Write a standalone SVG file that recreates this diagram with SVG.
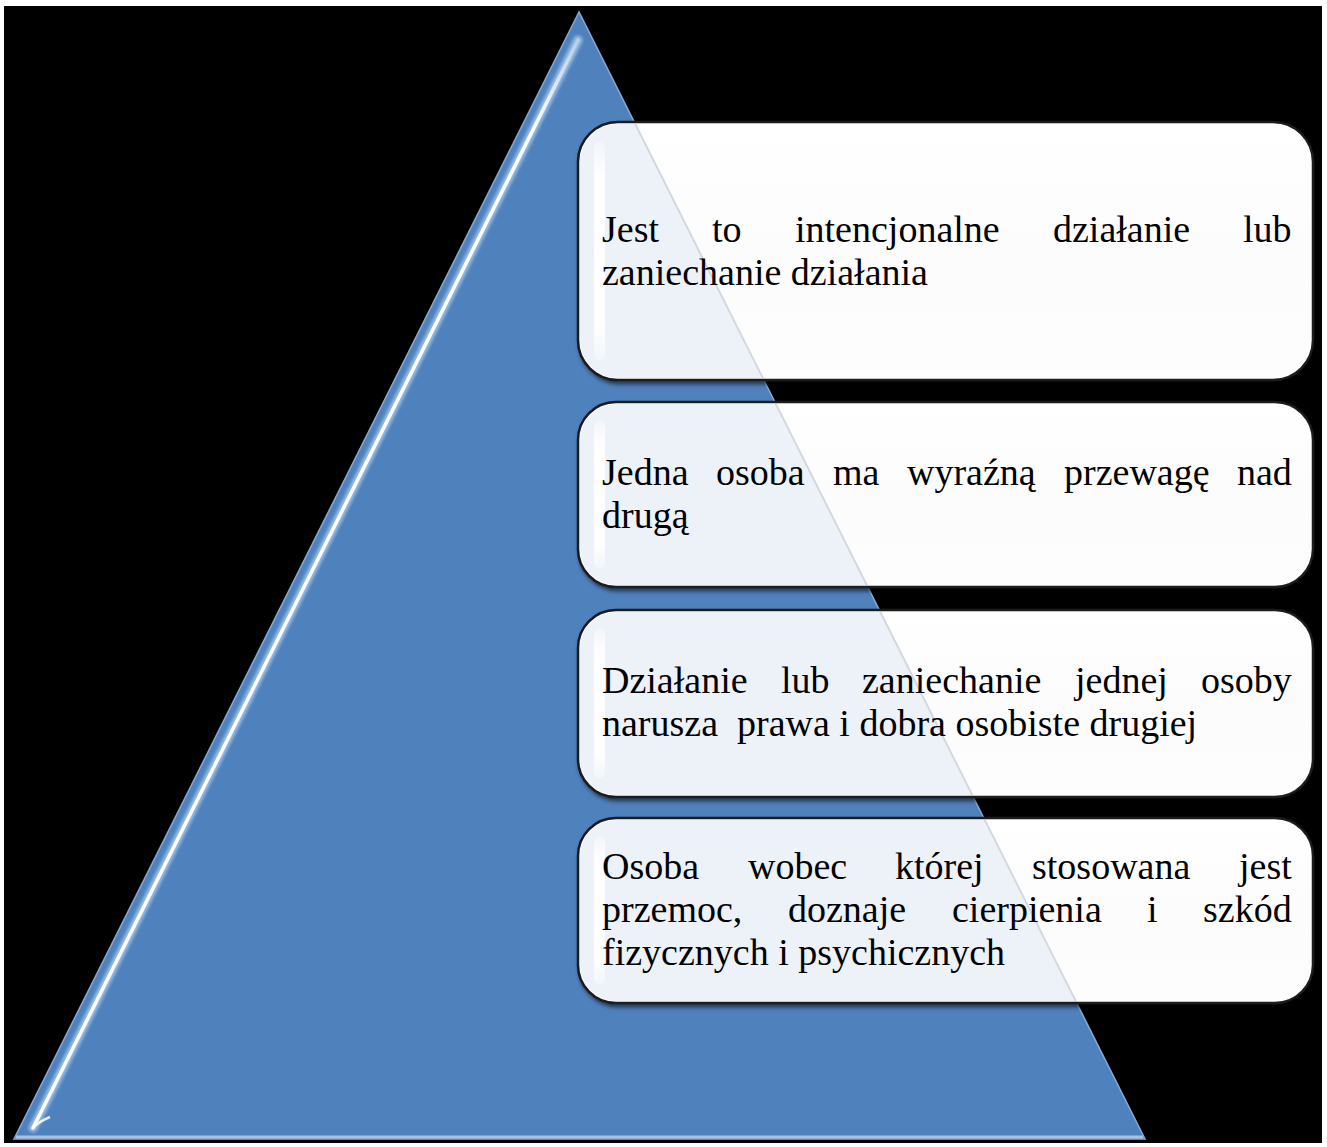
<svg xmlns="http://www.w3.org/2000/svg" width="1327" height="1147" viewBox="0 0 1327 1147">
<style>
.t{font-family:"Liberation Serif","Times New Roman",serif;font-size:38px;fill:#000;white-space:pre}
.box{stroke:#1a1a1a;stroke-width:2.5}
.tint{fill:#EDF2F9}
.gloss{fill:url(#glossG)}
</style>
<defs>
<linearGradient id="boxG" x1="0" y1="0" x2="0" y2="1">
<stop offset="0" stop-color="#FFFFFF"/>
<stop offset="0.5" stop-color="#FCFCFC"/>
<stop offset="1" stop-color="#FDFDFD"/>
</linearGradient>
<linearGradient id="glossG" x1="0" y1="0" x2="0" y2="1">
<stop offset="0" stop-color="#FFFFFF" stop-opacity="0.3"/>
<stop offset="0.15" stop-color="#FFFFFF" stop-opacity="1"/>
<stop offset="0.85" stop-color="#FFFFFF" stop-opacity="1"/>
<stop offset="1" stop-color="#FFFFFF" stop-opacity="0.3"/>
</linearGradient>
<linearGradient id="hiG" x1="0" y1="0" x2="0" y2="1">
<stop offset="0" stop-color="#FFFFFF" stop-opacity="0.3"/>
<stop offset="0.08" stop-color="#FFFFFF" stop-opacity="1"/>
<stop offset="1" stop-color="#FFFFFF" stop-opacity="1"/>
</linearGradient>
<clipPath id="triClip"><polygon points="579,12 14,1139 1145,1139"/></clipPath>
<clipPath id="boxClip">
<rect x="580" y="124" width="731" height="254" rx="38"/>
<rect x="580" y="404" width="731" height="181" rx="36"/>
<rect x="580" y="612" width="731" height="183" rx="36"/>
<rect x="580" y="820" width="731" height="181" rx="36"/>
</clipPath>
<filter id="sh" x="-5%" y="-5%" width="110%" height="115%">
<feDropShadow dx="2" dy="3" stdDeviation="2" flood-color="#000" flood-opacity="0.6"/>
</filter>
<filter id="blur1"><feGaussianBlur stdDeviation="1.5"/></filter>
</defs>
<rect x="0" y="0" width="1327" height="1147" fill="#FFFFFF"/>
<rect x="4" y="6" width="1318" height="1137" fill="#000000"/>

<g id="triangle">
<polygon points="579,12 14,1139 1145,1139" fill="#4F81BD" stroke="#86AAD6" stroke-width="1.5"/>
<line x1="16" y1="1137" x2="1143" y2="1137" stroke="#A8C1DF" stroke-width="3"/>
<line x1="578" y1="40" x2="33" y2="1128" stroke="#B5D3F2" stroke-width="9" stroke-linecap="round" opacity="0.7" filter="url(#blur1)"/>
<line x1="578" y1="40" x2="33" y2="1128" stroke="url(#hiG)" stroke-width="3.5" stroke-linecap="round"/>
<path d="M33,1128 Q38,1122 50,1117" fill="none" stroke="#FFFFFF" stroke-width="2.5" opacity="0.85"/>
</g>

<g id="boxes-base" filter="url(#sh)">
<rect class="box" x="578" y="122" width="735" height="258" rx="40" fill="url(#boxG)"/>
<rect class="box" x="578" y="402" width="735" height="185" rx="38" fill="url(#boxG)"/>
<rect class="box" x="578" y="610" width="735" height="187" rx="38" fill="url(#boxG)"/>
<rect class="box" x="578" y="818" width="735" height="185" rx="38" fill="url(#boxG)"/>
</g>
<g id="boxes-tint" clip-path="url(#triClip)">
<g clip-path="url(#boxClip)">
<rect class="tint" x="578" y="122" width="735" height="890"/>
</g>
</g>
<g id="edge-line" clip-path="url(#boxClip)">
<line x1="579" y1="12" x2="1145" y2="1139" stroke="#D3D8DF" stroke-width="2"/>
</g>
<g id="gloss">
<rect class="gloss" x="594" y="142" width="11" height="218" rx="5.5" opacity="0.9"/>
<rect class="gloss" x="594" y="420" width="11" height="148" rx="5.5" opacity="0.9"/>
<rect class="gloss" x="594" y="628" width="11" height="150" rx="5.5" opacity="0.9"/>
<rect class="gloss" x="594" y="836" width="11" height="148" rx="5.5" opacity="0.9"/>
</g>

<g id="box1">
<text class="t"><tspan x="602" y="242">Jest</tspan><tspan x="712" y="242">to</tspan><tspan x="795" y="242">intencjonalne</tspan><tspan x="1053" y="242">działanie</tspan><tspan x="1243" y="242">lub</tspan></text>
<text class="t" x="602" y="285">zaniechanie działania</text>
</g>
<g id="box2">
<text class="t"><tspan x="602" y="485">Jedna</tspan><tspan x="716" y="485">osoba</tspan><tspan x="833" y="485">ma</tspan><tspan x="907" y="485">wyraźną</tspan><tspan x="1064" y="485">przewagę</tspan><tspan x="1237" y="485">nad</tspan></text>
<text class="t" x="602" y="528">drugą</text>
</g>
<g id="box3">
<text class="t"><tspan x="602" y="693">Działanie</tspan><tspan x="781" y="693">lub</tspan><tspan x="862" y="693">zaniechanie</tspan><tspan x="1075" y="693">jednej</tspan><tspan x="1201" y="693">osoby</tspan></text>
<text class="t" x="602" y="736">narusza  prawa i dobra osobiste drugiej</text>
</g>
<g id="box4">
<text class="t"><tspan x="602" y="879">Osoba</tspan><tspan x="748" y="879">wobec</tspan><tspan x="895" y="879">której</tspan><tspan x="1032" y="879">stosowana</tspan><tspan x="1239" y="879">jest</tspan></text>
<text class="t"><tspan x="602" y="922">przemoc,</tspan><tspan x="788" y="922">doznaje</tspan><tspan x="952" y="922">cierpienia</tspan><tspan x="1147" y="922">i</tspan><tspan x="1203" y="922">szkód</tspan></text>
<text class="t" x="602" y="965">fizycznych i psychicznych</text>
</g>
</svg>
